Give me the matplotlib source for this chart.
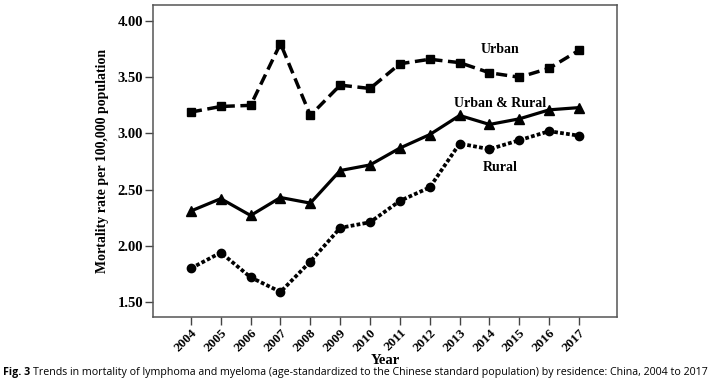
import matplotlib.pyplot as plt

years = [2004, 2005, 2006, 2007, 2008, 2009, 2010, 2011, 2012, 2013, 2014, 2015, 2016, 2017]
urban = [3.19, 3.24, 3.25, 3.80, 3.16, 3.43, 3.40, 3.62, 3.66, 3.63, 3.54, 3.50, 3.58, 3.74]
urban_rural = [2.31, 2.42, 2.27, 2.43, 2.38, 2.67, 2.72, 2.87, 2.99, 3.16, 3.08, 3.13, 3.21, 3.23]
rural = [1.80, 1.94, 1.72, 1.59, 1.86, 2.16, 2.21, 2.40, 2.52, 2.91, 2.86, 2.94, 3.02, 2.98]
yticks = [1.50, 2.00, 2.50, 3.00, 3.50, 4.00]

serif = "Liberation Serif"
cap_font = ["Liberation Sans Narrow", "Open Sans"]

fig = plt.figure(figsize=(7.16, 3.86), dpi=100)
ax = fig.add_axes([0.2137, 0.1788, 0.648, 0.808])

ax.plot(years, urban, color="black", linestyle=(0, (3.2, 1.6)), linewidth=2.5,
        marker="s", markersize=5.5)
ax.plot(years, urban_rural, color="black", linestyle="-", linewidth=2.3,
        marker="^", markersize=6.5)
ax.plot(years, rural, color="black", linestyle=(0, (1, 0.6)), linewidth=2.7,
        marker="o", markersize=6)

ax.text(2014.35, 3.75, "Urban", fontfamily=serif, fontweight="bold", fontsize=10,
        ha="center", va="center")
ax.text(2014.35, 3.27, "Urban & Rural", fontfamily=serif, fontweight="bold", fontsize=10,
        ha="center", va="center")
ax.text(2014.35, 2.70, "Rural", fontfamily=serif, fontweight="bold", fontsize=10,
        ha="center", va="center")

ax.set_xlim(2002.73, 2018.27)
ax.set_ylim(1.367, 4.142)
ax.set_xticks(years)
ax.set_xticklabels([str(y) for y in years], rotation=45, ha="right", rotation_mode="anchor",
                   fontfamily=serif, fontweight="bold", fontsize=9.5)
ax.set_yticks(yticks)
ax.set_yticklabels([f"{v:.2f}" for v in yticks], fontfamily=serif, fontweight="bold", fontsize=10.5)
ax.tick_params(direction="out", length=6, width=1, color="#444444", pad=1)
for s in ax.spines.values():
    s.set_color("#555555")
    s.set_linewidth(1.1)

ax.set_xlabel("Year", fontfamily=serif, fontweight="bold", fontsize=10.5, labelpad=0)
ax.set_ylabel("Mortality rate per 100,000 population", fontfamily=serif, fontweight="bold",
              fontsize=10, labelpad=6)

# caption: bold "Fig. 3" then the rest, sized to fit the width
size = 8.2
t1 = fig.text(0.004, 0.036, "Fig. 3", fontfamily=cap_font, fontweight="bold", fontsize=size,
              va="center")
fig.canvas.draw()
bb = t1.get_window_extent()
t2 = fig.text(bb.x1 / fig.bbox.width + 0.005, 0.036,
              "Trends in mortality of lymphoma and myeloma (age-standardized to the Chinese standard "
              "population) by residence: China, 2004 to 2017",
              fontfamily=cap_font, fontsize=size, va="center")
fig.canvas.draw()
right = t2.get_window_extent().x1
if right > 712:
    scale = 709 / right
    t1.set_fontsize(size * scale)
    fig.canvas.draw()
    bb = t1.get_window_extent()
    t2.set_fontsize(size * scale)
    t2.set_x(bb.x1 / fig.bbox.width + 0.004)

fig.savefig("out.png", dpi=100)
